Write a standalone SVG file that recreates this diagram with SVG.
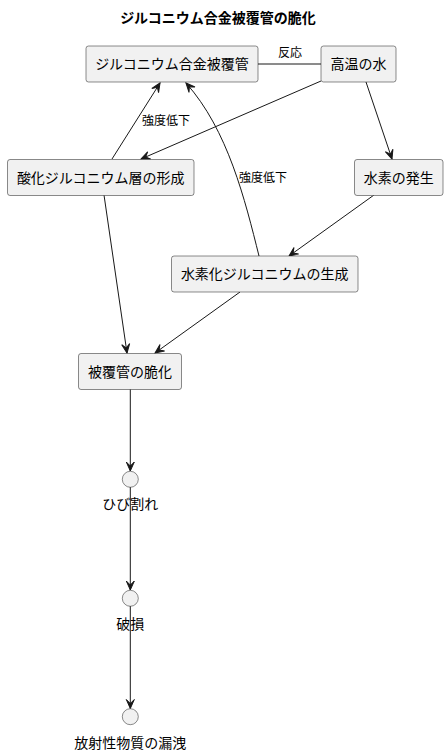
<svg xmlns="http://www.w3.org/2000/svg" width="448" height="755" viewBox="0 0 448 755">
<defs>
<style>
text{font-family:"Noto Sans CJK JP","Noto Sans",sans-serif;fill:#000}
.title{font-size:14px;font-weight:bold;text-anchor:middle}
.node rect{fill:#F1F1F1;stroke:#181818;stroke-width:0.5}
.node circle{fill:#F1F1F1;stroke:#181818;stroke-width:0.5}
.node text{font-size:14px;text-anchor:middle}
.edges path,.edges line{stroke:#181818;stroke-width:1;fill:none}
.lbl{font-size:12px}
</style>
<marker id="arr" viewBox="-10 -5 11 10" refX="0" refY="0" markerWidth="11" markerHeight="10" markerUnits="userSpaceOnUse" orient="auto">
<path d="M0,0 L-9,-4 L-5,0 L-9,4 Z" fill="#181818" stroke="#181818" stroke-width="1"/>
</marker>
</defs>
<rect width="448" height="755" fill="#FFFFFF"/>
<text class="title" x="218" y="23">ジルコニウム合金被覆管の脆化</text>

<g id="edges" class="edges">
<line x1="258" y1="64" x2="321" y2="64"/>
<line x1="321" y1="81" x2="141" y2="159" marker-end="url(#arr)"/>
<line x1="366" y1="82" x2="392" y2="159" marker-end="url(#arr)"/>
<line x1="112" y1="159" x2="160" y2="83" marker-end="url(#arr)"/>
<path d="M259,256 C245,200 228,130 186,83" marker-end="url(#arr)"/>
<line x1="374" y1="195" x2="289" y2="256" marker-end="url(#arr)"/>
<line x1="104" y1="195" x2="127" y2="353" marker-end="url(#arr)"/>
<line x1="240" y1="292" x2="155" y2="353" marker-end="url(#arr)"/>
<line x1="130.3" y1="389" x2="130.3" y2="471" marker-end="url(#arr)"/>
<line x1="130.3" y1="487" x2="130.3" y2="590" marker-end="url(#arr)"/>
<line x1="130.3" y1="606" x2="130.3" y2="708.5" marker-end="url(#arr)"/>
<text class="lbl" x="290" y="57" text-anchor="middle">反応</text>
<text class="lbl" x="142" y="125">強度低下</text>
<text class="lbl" x="239" y="182">強度低下</text>
</g>

<g id="n_cladding" class="node">
<rect x="86" y="46" width="172" height="36" rx="2.5"/>
<text x="172" y="69">ジルコニウム合金被覆管</text>
</g>
<g id="n_water" class="node">
<rect x="321" y="46" width="75" height="36" rx="2.5"/>
<text x="358.5" y="69">高温の水</text>
</g>
<g id="n_oxide" class="node">
<rect x="7.5" y="159.5" width="186.5" height="36" rx="2.5"/>
<text x="100.75" y="182.5">酸化ジルコニウム層の形成</text>
</g>
<g id="n_hydrogen" class="node">
<rect x="354.5" y="159.5" width="88.5" height="36" rx="2.5"/>
<text x="398.75" y="182.5">水素の発生</text>
</g>
<g id="n_hydride" class="node">
<rect x="171.5" y="256" width="186.5" height="36" rx="2.5"/>
<text x="264.75" y="279">水素化ジルコニウムの生成</text>
</g>
<g id="n_embrittle" class="node">
<rect x="78.5" y="353.5" width="103" height="36" rx="2.5"/>
<text x="130" y="376.5">被覆管の脆化</text>
</g>
<g id="n_crack" class="node">
<circle cx="130.3" cy="479.3" r="8"/>
<text x="130.3" y="509">ひび割れ</text>
</g>
<g id="n_break" class="node">
<circle cx="130.3" cy="598.3" r="8"/>
<text x="130.3" y="629">破損</text>
</g>
<g id="n_leak" class="node">
<circle cx="130.3" cy="716.7" r="8"/>
<text x="130.3" y="748">放射性物質の漏洩</text>
</g>
</svg>
